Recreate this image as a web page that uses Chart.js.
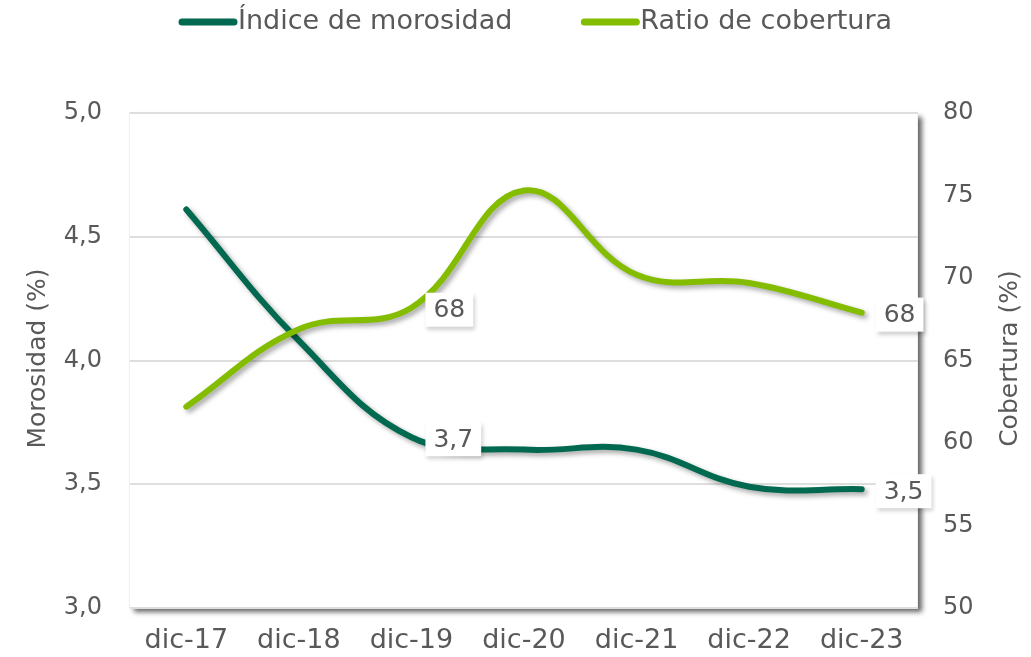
<!DOCTYPE html>
<html>
<head>
<meta charset="utf-8">
<script src="https://cdn.jsdelivr.net/npm/chart.js@4/dist/chart.umd.min.js"></script>
<style>
  html, body { margin: 0; padding: 0; background: #fff; }
  #myChart { display: block; }
</style>
</head>
<body>
<canvas id="myChart" width="1031" height="657"></canvas>
<script>
const labels = ["dic-17", "dic-18", "dic-19", "dic-20", "dic-21", "dic-22", "dic-23"];
const morosidad = [4.61, 4.08, 3.69, 3.64, 3.64, 3.49, 3.48];
const cobertura = [62.2, 66.9, 68.2, 75.3, 70.2, 69.7, 67.9];
const leftTicks = [3.0, 3.5, 4.0, 4.5, 5.0];
const rightTicks = [50, 55, 60, 65, 70, 75, 80];
const labelIndexes = [2, 6]; // dic-19 y dic-23 llevan etiqueta

const DARK = "#00694f";
const LIGHT = "#84bd00";
const TEXT = "#595959";
const FONT = "'DejaVu Sans', Verdana, sans-serif";

const fmtMor = v => v.toFixed(1).replace(".", ",");
const fmtCob = v => String(Math.round(v));

// fondo del área de trazado con sombra
const plotArea = {
  id: "plotArea",
  beforeDraw(chart) {
    const { ctx, chartArea: a } = chart;
    ctx.save();
    ctx.shadowColor = "rgba(0,0,0,0.6)";
    ctx.shadowBlur = 5;
    ctx.shadowOffsetX = 4;
    ctx.shadowOffsetY = 4;
    ctx.fillStyle = "#fff";
    ctx.fillRect(a.left, a.top, a.right - a.left, a.bottom - a.top);
    ctx.restore();
    ctx.save();
    ctx.strokeStyle = "#f0f0f0";
    ctx.lineWidth = 1;
    ctx.strokeRect(a.left - 0.5, a.top - 0.5, a.right - a.left, a.bottom - a.top);
    ctx.restore();
  }
};

// sombra de las líneas
const lineShadow = {
  id: "lineShadow",
  beforeDatasetDraw(chart) {
    const ctx = chart.ctx;
    ctx.save();
    ctx.shadowColor = "rgba(0,0,0,0.35)";
    ctx.shadowBlur = 5;
    ctx.shadowOffsetX = 3;
    ctx.shadowOffsetY = 3;
  },
  afterDatasetDraw(chart) {
    chart.ctx.restore();
  }
};

// etiquetas de datos con caja blanca
const dataLabels = {
  id: "dataLabels",
  afterDatasetsDraw(chart) {
    const ctx = chart.ctx;
    ctx.save();
    ctx.font = "25px " + FONT;
    ctx.textBaseline = "middle";
    chart.data.datasets.forEach((ds, di) => {
      const meta = chart.getDatasetMeta(di);
      labelIndexes.forEach(i => {
        const pt = meta.data[i];
        const txt = di === 0 ? fmtMor(ds.data[i]) : fmtCob(ds.data[i]);
        const w = ctx.measureText(txt).width + 16;
        const h = 34;
        const x = pt.x + 14;
        const y = pt.y - h / 2 + 2;
        ctx.save();
        ctx.shadowColor = "rgba(0,0,0,0.18)";
        ctx.shadowBlur = 4;
        ctx.shadowOffsetX = 2;
        ctx.shadowOffsetY = 3;
        ctx.fillStyle = "#fff";
        ctx.fillRect(x, y, w, h);
        ctx.restore();
        ctx.fillStyle = TEXT;
        ctx.textAlign = "left";
        ctx.fillText(txt, x + 8, y + h / 2 + 1);
      });
    });
    ctx.restore();
  }
};

// leyenda y títulos de ejes
const decor = {
  id: "decor",
  afterDraw(chart) {
    const ctx = chart.ctx;
    ctx.save();
    ctx.fillStyle = TEXT;
    ctx.font = "27px " + FONT;
    ctx.textBaseline = "middle";
    ctx.textAlign = "left";
    const items = chart.data.datasets.map(ds => ({ text: ds.label, color: ds.borderColor }));
    const lineW = 60, gap = 0, between = 68;
    const widths = items.map(it => lineW + gap + ctx.measureText(it.text).width);
    let x = 178;
    const y = 22;
    items.forEach((it, k) => {
      ctx.strokeStyle = it.color;
      ctx.lineWidth = 7;
      ctx.lineCap = "round";
      ctx.beginPath();
      ctx.moveTo(x + 4, y);
      ctx.lineTo(x + lineW - 4, y);
      ctx.stroke();
      ctx.fillText(it.text, x + lineW + gap, y);
      x += widths[k] + between;
    });

    ctx.font = "25px " + FONT;
    ctx.textAlign = "center";
    const a = chart.chartArea;
    const cy = (a.top + a.bottom) / 2;
    ctx.save();
    ctx.translate(38, cy - 2);
    ctx.rotate(-Math.PI / 2);
    ctx.fillText("Morosidad (%)", 0, 0);
    ctx.restore();
    ctx.save();
    ctx.translate(1010, cy - 2);
    ctx.rotate(-Math.PI / 2);
    ctx.fillText("Cobertura (%)", 0, 0);
    ctx.restore();
    ctx.restore();
  }
};

const map = document.getElementById("myChart");
const myChart = new Chart(map, {
  type: "line",
  data: {
    labels: labels,
    datasets: [
      {
        label: "Índice de morosidad",
        data: morosidad,
        yAxisID: "y",
        borderColor: DARK,
        backgroundColor: DARK,
        borderWidth: 6,
        borderCapStyle: "round",
        tension: 0.4,
        pointRadius: 0,
        fill: false,
        order: 1
      },
      {
        label: "Ratio de cobertura",
        data: cobertura,
        yAxisID: "y1",
        borderColor: LIGHT,
        backgroundColor: LIGHT,
        borderWidth: 6,
        borderCapStyle: "round",
        tension: 0.4,
        pointRadius: 0,
        fill: false,
        order: 0
      }
    ]
  },
  options: {
    responsive: false,
    animation: false,
    devicePixelRatio: 1,
    layout: { padding: { top: 113, left: 0, right: 0, bottom: 0 } },
    plugins: {
      legend: { display: false },
      tooltip: { enabled: false }
    },
    scales: {
      x: {
        offset: true,
        grid: { display: false, drawTicks: false },
        border: { display: false },
        ticks: { color: TEXT, font: { family: FONT, size: 27 }, padding: 17 },
        afterFit(s) { s.height = 49; }
      },
      y: {
        position: "left",
        min: 3,
        max: 5,
        afterBuildTicks(s) { s.ticks = leftTicks.map(v => ({ value: v })); },
        grid: { color: "#dedede", lineWidth: 2, drawTicks: false },
        border: { display: false },
        ticks: { color: TEXT, font: { family: FONT, size: 24 }, padding: 28, callback: v => fmtMor(v) },
        afterFit(s) { s.width = 130; }
      },
      y1: {
        position: "right",
        min: 50,
        max: 80,
        afterBuildTicks(s) { s.ticks = rightTicks.map(v => ({ value: v })); },
        grid: { display: false, drawTicks: false },
        border: { display: false },
        ticks: { color: TEXT, font: { family: FONT, size: 24 }, padding: 25 },
        afterFit(s) { s.width = 113; }
      }
    }
  },
  plugins: [plotArea, lineShadow, dataLabels, decor]
});
</script>
</body>
</html>
